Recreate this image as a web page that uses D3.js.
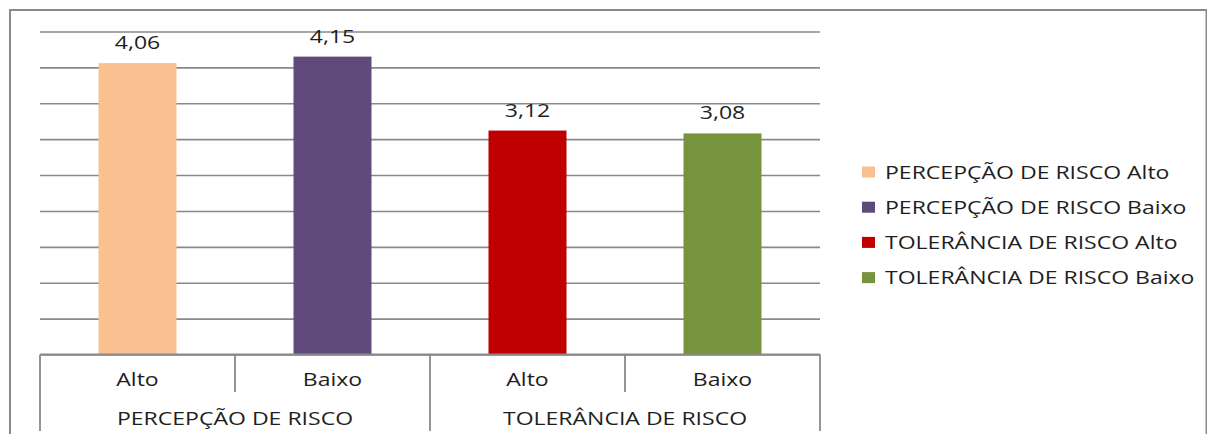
<!DOCTYPE html>
<html>
<head>
<meta charset="utf-8">
<script src="https://cdn.jsdelivr.net/npm/d3@7"></script>
<style>
  html, body { margin: 0; padding: 0; background: #fff; }
  svg { display: block; }
  text { font-family: "Open Sans", "Liberation Sans", sans-serif; fill: #1e1e1e; }
</style>
</head>
<body>
<svg id="chart" width="1207" height="434"></svg>
<script>
// Risk perception / tolerance means, split by level
const groups = ["PERCEPÇÃO DE RISCO", "TOLERÂNCIA DE RISCO"];
const levels = ["Alto", "Baixo"];
const values = [4.06, 4.15, 3.12, 3.08];
const seriesColors = ["#FAC090", "#604A7B", "#C00000", "#77933C"];
const yMax = 4.5;

const rows = [];
groups.forEach((g, gi) => levels.forEach((l, li) => {
  const i = gi * levels.length + li;
  rows.push({ key: g + " " + l, group: g, level: l, value: values[i], color: seriesColors[i] });
}));

const svg = d3.select("#chart");
const plot = { left: 40, right: 820, top: 31.5, bottom: 354.5 };
const stretch = 1.28;          // horizontal text stretch
const fontSize = 18;

const locale = d3.formatLocale({ decimal: ",", thousands: ".", grouping: [3], currency: ["", ""] });
const fmt = locale.format(".2f");

const x = d3.scaleBand()
  .domain(rows.map(d => d.key))
  .range([plot.left, plot.right])
  .paddingInner(0.6)
  .paddingOuter(0.3);

const y = d3.scaleLinear().domain([0, yMax]).range([plot.bottom, plot.top]);

// text helper: places stretched text anchored at (px, py)
function label(sel, px, py, str, anchor) {
  return sel.append("text")
    .attr("transform", `translate(${px},${py}) scale(${stretch},1)`)
    .attr("text-anchor", anchor || "middle")
    .style("font-size", fontSize + "px")
    .text(str);
}

// outer chart frame (only top and left edges fall inside the view)
svg.append("rect")
  .attr("x", 10).attr("y", 10)
  .attr("width", 1196.5).attr("height", 440)
  .attr("fill", "none").attr("stroke", "#8a8a8a").attr("stroke-width", 2);

// horizontal gridlines
const yAxis = d3.axisLeft(y).ticks(9).tickSize(-(plot.right - plot.left)).tickFormat("");
const gy = svg.append("g").attr("transform", `translate(${plot.left},0)`).call(yAxis);
gy.select(".domain").remove();
gy.selectAll(".tick line").attr("stroke", "#898989").attr("stroke-width", 1.6);

// bars
svg.append("g").selectAll("rect").data(rows).join("rect")
  .attr("x", d => x(d.key))
  .attr("width", x.bandwidth())
  .attr("y", d => y(d.value))
  .attr("height", d => y(0) - y(d.value))
  .attr("fill", d => d.color);

// value labels
const vl = svg.append("g");
rows.forEach(d => label(vl, x(d.key) + x.bandwidth() / 2, y(d.value) - 14, fmt(d.value)));

// category axis with two label tiers
const axis = svg.append("g").attr("stroke", "#898989").attr("stroke-width", 1.8).attr("fill", "none");
axis.append("line").attr("x1", plot.left).attr("x2", plot.right)
  .attr("y1", plot.bottom).attr("y2", plot.bottom);
const step = x.step();
const edges = d3.range(rows.length + 1).map(i => plot.left + i * step);
edges.forEach((ex, i) => {
  const isGroupEdge = i % levels.length === 0;
  axis.append("line")
    .attr("x1", ex).attr("x2", ex)
    .attr("y1", plot.bottom).attr("y2", isGroupEdge ? 431 : 392);
});

const axText = svg.append("g");
rows.forEach(d => label(axText, x(d.key) + x.bandwidth() / 2, 386, d.level));
groups.forEach((g, gi) => {
  const cx = plot.left + (gi + 0.5) * step * levels.length;
  label(axText, cx, 425, g);
});

// legend
const legend = svg.append("g");
rows.forEach((d, i) => {
  const cy = 172 + i * 35.2;
  legend.append("rect")
    .attr("x", 862).attr("y", cy - 5.5)
    .attr("width", 13).attr("height", 11)
    .attr("fill", d.color);
  label(legend, 885, cy + 6.5, d.key, "start");
});
</script>
</body>
</html>
